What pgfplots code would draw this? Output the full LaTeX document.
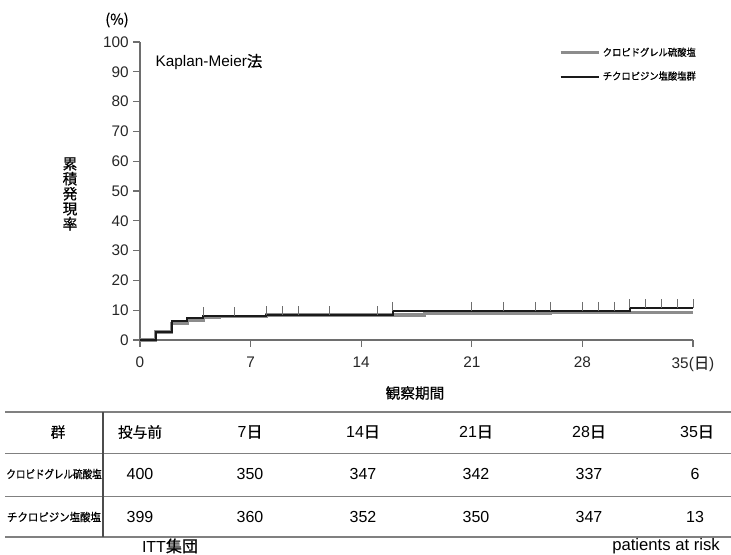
\documentclass[border=0pt]{standalone}
\usepackage{fontspec}
\setmainfont{Liberation Sans}
\newfontfamily\jp[FakeBold=0.5]{Noto Sans CJK JP}
\usepackage{graphicx}
\usepackage{pgfplots}
\pgfplotsset{compat=1.18}
\definecolor{kmgray}{HTML}{8C8C8C}
\definecolor{kmblack}{HTML}{1A1A1A}
\definecolor{axgray}{HTML}{6E6E6E}
\newcommand\pp[2]{({(#1)*0.75pt},{-(#2)*0.75pt})}
\begin{document}
\begin{tikzpicture}
\path[use as bounding box] (0,0) rectangle (548.25pt,-415.5pt);
\begin{axis}[
  at={(105pt,-255pt)}, anchor=south west, scale only axis,
  width=414.75pt, height=223.5pt,
  xmin=0, xmax=35, ymin=0, ymax=100,
  axis lines=left, axis line style={-, axgray, line width=0.9pt},
  xtick={0,7,14,21,28,35},
  xticklabels={0,7,14,21,28,{35({\jp 日})}},
  ytick={0,10,...,100},
  tick align=outside, major tick length=5pt,
  tick style={axgray, line width=0.8pt},
  ticklabel style={font=\fontsize{11.5}{13}\selectfont, text=black!85},
  xticklabel style={yshift=-4pt},
  /pgf/number format/assume math mode=true,
  clip=false,
  legend style={at={(rel axis cs:0.75,1.0)}, anchor=north west, draw=none, fill=none,
    font=\jp\fontsize{7.5}{8}\selectfont, row sep=6pt, legend cell align=left},
  legend image code/.code={\draw[#1] (0cm,0cm) -- (1cm,0cm);},
]
\addplot[const plot, kmgray, line width=2.4pt] coordinates {
  (0,0) (1,2.7) (2,5.6) (3,6.7) (4,7.5) (5,8.0) (8,8.4) (18,8.9) (26,9.2) (35,9.2)};
\addlegendentry{\scalebox{0.93}[1]{クロピドグレル硫酸塩}}
\addplot[const plot, kmblack, line width=1.5pt] coordinates {
  (0,0) (1,2.7) (2,6.4) (3,7.3) (4,8.0) (8,8.4) (16,9.8) (31,10.7) (35,10.7)};
\addlegendentry{\scalebox{0.93}[1]{チクロピジン塩酸塩群}}
\addplot[only marks, mark=|, mark size=3.3pt, mark options={axgray, line width=0.6pt}, forget plot] coordinates {
  (4,9.5) (6,9.5) (8,9.9) (9,9.9) (10,9.9) (12,9.9) (15,9.9)
  (16,11.3) (21,11.3) (23,11.3) (25,11.3) (26,11.3) (28,11.3) (29,11.3) (30,11.3)
  (31,12.2) (32,12.2) (33,12.2) (34,12.2) (35,12.2)};
\end{axis}
% texts around the plot
\node[font=\jp\fontsize{11}{12}\selectfont] at \pp{117}{20} {(\%)};
\node[anchor=west, font=\fontsize{11.5}{13}\selectfont] at \pp{151}{62} {Kaplan-Meier{\jp 法}};
\node[font=\jp\fontsize{11}{11.25}\selectfont, align=center] at \pp{70}{194} {累\\積\\発\\現\\率};
\node[font=\jp\fontsize{11}{12}\selectfont] at \pp{415}{393} {観察期間};
% table
\draw[gray, line width=1.2pt] \pp{5}{412} -- \pp{731}{412};
\draw[gray, line width=0.6pt] \pp{5}{453} -- \pp{731}{453};
\draw[gray, line width=0.6pt] \pp{5}{496} -- \pp{731}{496};
\draw[gray, line width=1.2pt] \pp{5}{537} -- \pp{731}{537};
\draw[black!70, line width=0.8pt] \pp{103}{412} -- \pp{103}{537};
\begin{scope}[every node/.style={font=\fontsize{12}{14}\selectfont}]
\node[font=\jp\fontsize{11}{12}\selectfont] at \pp{58}{432} {群};
\node[font=\jp\fontsize{11}{12}\selectfont] at \pp{140}{432} {投与前};
\node at \pp{250}{432} {7{\jp 日}};
\node at \pp{363}{432} {14{\jp 日}};
\node at \pp{476}{432} {21{\jp 日}};
\node at \pp{589}{432} {28{\jp 日}};
\node at \pp{697}{432} {35{\jp 日}};
\node[font=\jp\fontsize{8.5}{9}\selectfont] at \pp{54}{474} {\scalebox{0.84}[1]{クロピドグレル硫酸塩}};
\node at \pp{140}{474} {400};
\node at \pp{250}{474} {350};
\node at \pp{363}{474} {347};
\node at \pp{476}{474} {342};
\node at \pp{589}{474} {337};
\node at \pp{695}{474} {6};
\node[font=\jp\fontsize{8.5}{9}\selectfont] at \pp{54}{517} {\scalebox{0.92}[1]{チクロピジン塩酸塩}};
\node at \pp{140}{517} {399};
\node at \pp{250}{517} {360};
\node at \pp{363}{517} {352};
\node at \pp{476}{517} {350};
\node at \pp{589}{517} {347};
\node at \pp{695}{517} {13};
\node at \pp{170}{546} {ITT{\jp 集団}};
\node[font=\fontsize{12.5}{14}\selectfont] at \pp{666}{546} {patients at risk};
\end{scope}
\end{tikzpicture}
\end{document}
